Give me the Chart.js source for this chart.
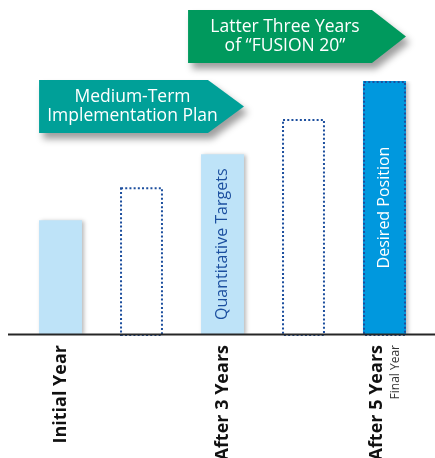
<!DOCTYPE html>
<html>
<head>
<meta charset="utf-8">
<script src="https://cdn.jsdelivr.net/npm/chart.js"></script>
<style>
  html, body { margin: 0; padding: 0; background: #fff; overflow: hidden; }
  #wrap { position: relative; width: 435px; height: 458px; }
</style>
</head>
<body>
<div id="wrap"><canvas id="chart"></canvas></div>
<script>
const categories = ['Initial Year', '', 'After 3 Years', '', 'After 5 Years'];
const levels = [45, 58, 71, 85, 100];
const barNotes = ['', '', 'Quantitative Targets', '', 'Desired Position'];
const finalNote = 'Final Year';
const planArrow = ['Medium-Term', 'Implementation Plan'];
const fusionArrow = ['Latter Three Years', 'of \u201CFUSION 20\u201D'];

const FONT = '"Open Sans", "Noto Sans", sans-serif';
const LABEL_FONT = `bold 18px ${FONT}`;
const fills = ['#bee3f8', 'rgba(0,0,0,0)', '#bee3f8', 'rgba(0,0,0,0)', '#0098de'];
const dotted = [false, true, false, true, true];
const noteColors = ['#fff', '#fff', '#1b4f9f', '#fff', '#ffffff'];
const lastIdx = categories.length - 1;

// soft shadow under the filled bars only (transparent ones cast none)
const barShadow = {
    id: 'barShadow',
    beforeDatasetsDraw(chart) {
        const ctx = chart.ctx;
        ctx.save();
        ctx.shadowColor = 'rgba(0,0,0,0.28)';
        ctx.shadowBlur = 4;
        ctx.shadowOffsetX = 2;
        ctx.shadowOffsetY = 1;
    },
    afterDatasetsDraw(chart) {
        chart.ctx.restore();
    }
};

function drawArrow(ctx, left, top, bottom, neck, tip, color, lines, textX) {
    const mid = (top + bottom) / 2;
    ctx.save();
    ctx.shadowColor = 'rgba(0,0,0,0.38)';
    ctx.shadowBlur = 7;
    ctx.shadowOffsetX = 4;
    ctx.shadowOffsetY = 6;
    ctx.fillStyle = color;
    ctx.beginPath();
    ctx.moveTo(left, top);
    ctx.lineTo(neck, top);
    ctx.lineTo(tip, mid);
    ctx.lineTo(neck, bottom);
    ctx.lineTo(left, bottom);
    ctx.closePath();
    ctx.fill();
    ctx.restore();

    ctx.save();
    ctx.fillStyle = '#fff';
    ctx.font = `17.5px ${FONT}`;
    ctx.textAlign = 'center';
    ctx.textBaseline = 'middle';
    ctx.fillText(lines[0], textX, mid - 9.5);
    ctx.fillText(lines[1], textX, mid + 9.5);
    ctx.restore();
}

function vText(ctx, text, x, y, font, color, align) {
    ctx.save();
    ctx.translate(x, y);
    ctx.rotate(-Math.PI / 2);
    ctx.fillStyle = color;
    ctx.font = font;
    ctx.textAlign = align;
    ctx.textBaseline = 'middle';
    ctx.fillText(text, 0, 0);
    ctx.restore();
}

const decor = {
    id: 'decor',
    afterDatasetsDraw(chart) {
        const { ctx, scales: { y } } = chart;
        const bars = chart.getDatasetMeta(0).data;
        const zero = y.getPixelForValue(0);

        // dotted outlines
        ctx.save();
        ctx.strokeStyle = '#1d4f9e';
        ctx.lineWidth = 2;
        ctx.setLineDash([2, 2.2]);
        bars.forEach((bar, i) => {
            if (!dotted[i]) return;
            const left = bar.x - bar.width / 2;
            ctx.strokeRect(left + 1, bar.y + 1, bar.width - 2, bar.base - bar.y);
        });
        ctx.restore();

        // base line
        ctx.save();
        ctx.strokeStyle = '#262626';
        ctx.lineWidth = 2;
        ctx.beginPath();
        ctx.moveTo(8, zero + 0.5);
        ctx.lineTo(chart.width, zero + 0.5);
        ctx.stroke();
        ctx.restore();

        // rotated notes inside bars
        bars.forEach((bar, i) => {
            if (!barNotes[i]) return;
            vText(ctx, barNotes[i], bar.x, (bar.y + bar.base) / 2, `16px ${FONT}`, noteColors[i], 'center');
        });
    },
    afterDraw(chart) {
        const ctx = chart.ctx;
        const xs = chart.scales.x;
        const bars = chart.getDatasetMeta(0).data;
        const edge = (b, side) => b.x + side * b.width / 2;

        // last category label sits left of its tick, with the small note beside it
        const px = xs.getPixelForTick(lastIdx);
        vText(ctx, categories[lastIdx], px - 8, xs.top + 11, LABEL_FONT, '#111', 'right');
        vText(ctx, finalNote, px + 11, xs.top + 11, `12px ${FONT}`, '#333', 'right');

        const tealLeft = edge(bars[0], -1), tealTip = edge(bars[2], 1);
        drawArrow(ctx, tealLeft, 80, 133, tealTip - 36, tealTip, '#00a098', planArrow, (tealLeft + tealTip) / 2 - 9);

        const greenLeft = edge(bars[2], -1) - 13, greenTip = edge(bars[4], 1);
        drawArrow(ctx, greenLeft, 10, 63, greenTip - 34, greenTip, '#00995d', fusionArrow, (greenLeft + greenTip) / 2 - 12);
    }
};

new Chart(document.getElementById('chart'), {
    type: 'bar',
    data: {
        labels: categories,
        datasets: [{
            data: levels,
            backgroundColor: fills,
            borderWidth: 0,
            barPercentage: 0.53,
            categoryPercentage: 1
        }]
    },
    options: {
        responsive: true,
        maintainAspectRatio: false,
        animation: false,
        layout: { padding: { top: 81, left: 20, right: 10, bottom: 0 } },
        plugins: {
            legend: { display: false },
            tooltip: { enabled: false }
        },
        scales: {
            x: {
                grid: { display: false },
                border: { display: false },
                ticks: {
                    // the last label is drawn by the decor plugin
                    color: c => c.index === lastIdx ? 'rgba(0,0,0,0)' : '#111',
                    font: { family: FONT, size: 18, weight: 'bold' },
                    padding: 3,
                    minRotation: 90,
                    maxRotation: 90,
                    autoSkip: false
                },
                afterFit: s => { s.height = 124; }
            },
            y: { display: false, min: 0, max: 100 }
        }
    },
    plugins: [barShadow, decor]
});
</script>
</body>
</html>
